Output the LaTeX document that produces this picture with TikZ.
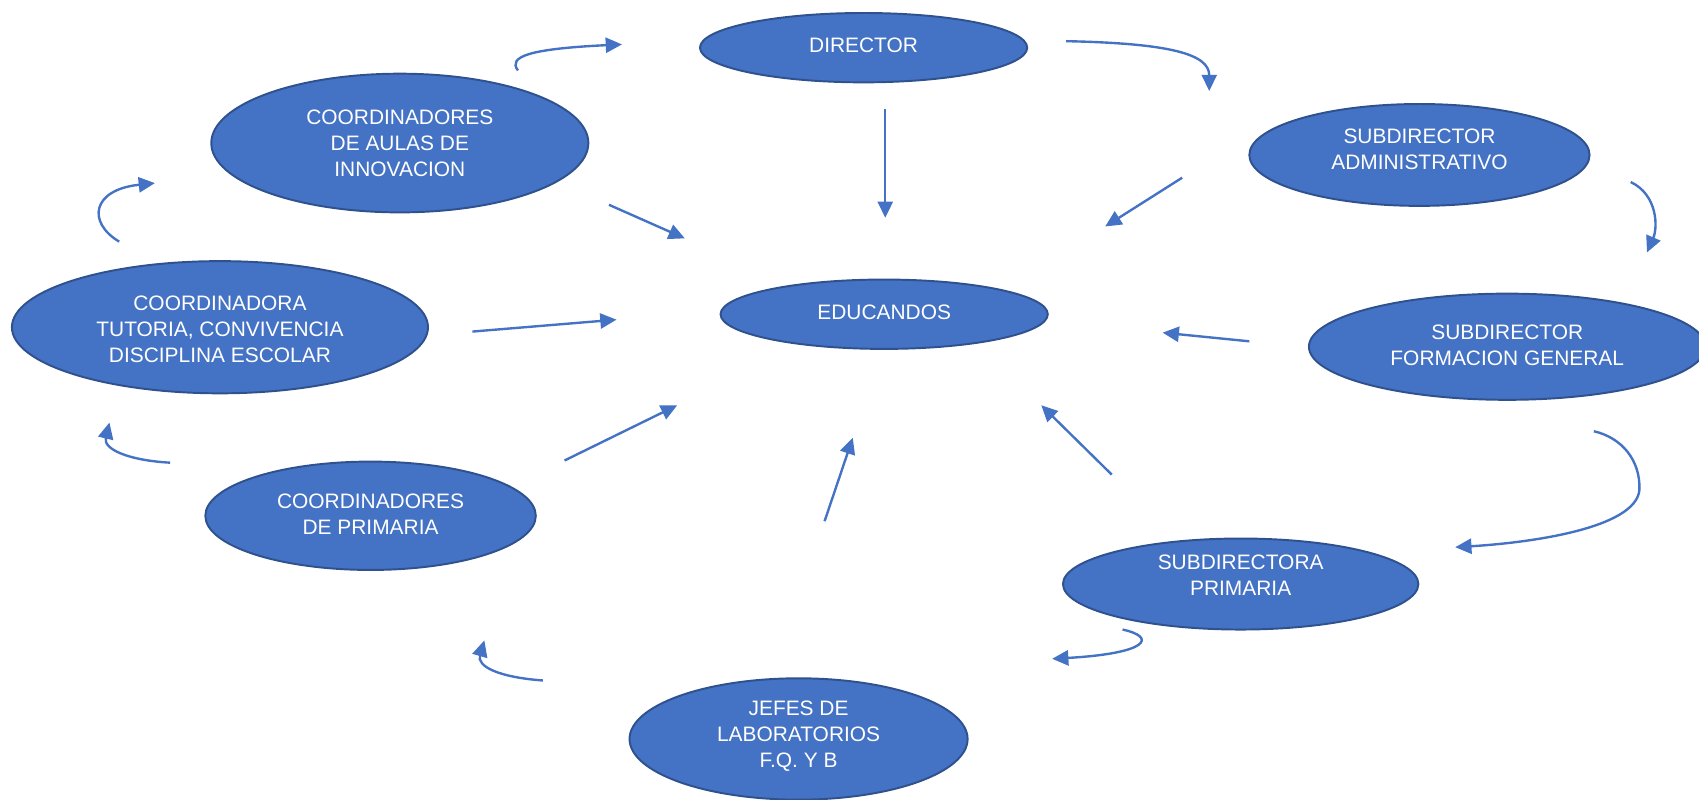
\documentclass[tikz,border=0pt]{standalone}
\usepackage{fontspec}
\setmainfont{Liberation Sans}
\usetikzlibrary{arrows.meta,shapes.geometric}
\definecolor{ofblue}{HTML}{4472C4}
\definecolor{ofdark}{HTML}{2F528F}
\begin{document}
\begin{tikzpicture}[x=1pt,y=-1pt,
  ell/.style={ellipse, draw=ofdark, line width=1.8pt, fill=ofblue, inner sep=0pt},
  lbl/.style={text=white, align=center, inner sep=0pt, font=\fontsize{19.3}{24}\selectfont},
  con/.style={draw=ofblue, line width=2.2pt, -{Triangle[length=15pt,width=14pt]}}]
\useasboundingbox (0,0) rectangle (1568,738);

% ellipses
\node[ell, minimum width=302pt, minimum height=64pt]  (dir)   at (797,44)   {};
\node[ell, minimum width=348pt, minimum height=128pt] (aulas) at (369,132)  {};
\node[ell, minimum width=314pt, minimum height=94pt]  (sadm)  at (1310,143) {};
\node[ell, minimum width=302pt, minimum height=64pt]  (edu)   at (816,290)  {};
\node[ell, minimum width=384pt, minimum height=122pt] (tut)   at (203,302)  {};
\node[ell, minimum width=366pt, minimum height=98pt]  (sfg)   at (1391,320) {};
\node[ell, minimum width=305pt, minimum height=100pt] (cpri)  at (342,476)  {};
\node[ell, minimum width=328pt, minimum height=84pt]  (spri)  at (1145,539) {};
\node[ell, minimum width=312pt, minimum height=112pt] (jefes) at (737,682)  {};

% texts
\node[lbl] (dirt)   at (797,42)    {DIRECTOR};
\node[lbl] (aulast) at (369,132)   {COORDINADORES\\DE AULAS DE\\INNOVACION};
\node[lbl] (sadmt)  at (1310,137.5){SUBDIRECTOR\\ADMINISTRATIVO};
\node[lbl] (edut)   at (816,288)   {EDUCANDOS};
\node[lbl] (tutt)   at (203,304)   {COORDINADORA\\TUTORIA, CONVIVENCIA\\DISCIPLINA ESCOLAR};
\node[lbl] (sfgt)   at (1391,318.5){SUBDIRECTOR\\FORMACION GENERAL};
\node[lbl] (cprit)  at (342,474.5) {COORDINADORES\\DE PRIMARIA};
\node[lbl] (sprit)  at (1145,530.5){SUBDIRECTORA\\PRIMARIA};
\node[lbl] (jefest) at (737,679.5) {JEFES DE\\LABORATORIOS\\F.Q. Y B};

% straight connector end points
\coordinate (d1) at (817,101);  \coordinate (d2) at (817,201);
\coordinate (s1) at (1091,164); \coordinate (s2) at (1020,209);
\coordinate (a1) at (562,189);  \coordinate (a2) at (632,220);
\coordinate (t1) at (436,306);  \coordinate (t2) at (569,295);
\coordinate (f1) at (1153,315); \coordinate (f2) at (1073,307);
\coordinate (p1) at (521,425);  \coordinate (p2) at (625,374);
\coordinate (j1) at (761,481);  \coordinate (j2) at (787,404);
\coordinate (r1) at (1026,438); \coordinate (r2) at (961,374);

\draw[con] (d1) -- (d2);
\draw[con] (s1) -- (s2);
\draw[con] (a1) -- (a2);
\draw[con] (t1) -- (t2);
\draw[con] (f1) -- (f2);
\draw[con] (p1) -- (p2);
\draw[con] (j1) -- (j2);
\draw[con] (r1) -- (r2);

% curved connector end points
\coordinate (ca1) at (478,65);   \coordinate (ca2) at (574,41);
\coordinate (cb1) at (984,38);   \coordinate (cb2) at (1116,84);
\coordinate (cc1) at (1505,168); \coordinate (cc2) at (1520,233);
\coordinate (cd1) at (1471,398); \coordinate (cd2) at (1343,505);
\coordinate (ce1) at (1036,581); \coordinate (ce2) at (971,608);
\coordinate (cf1) at (501,628);  \coordinate (cf2) at (447,591);
\coordinate (cg1) at (157,427);  \coordinate (cg2) at (101,390);
\coordinate (ch1) at (110,223);  \coordinate (ch2) at (143,169);

\draw[con] (ca1) .. controls (468,52) and (490,45) .. (ca2);
\draw[con] (cb1) .. controls (1080,40) and (1116,50) .. (cb2);
\draw[con] (cc1) .. controls (1530,180) and (1530,210) .. (cc2);
\draw[con] (cd1) .. controls (1497,404) and (1514,425) .. (1513,452)
                 .. controls (1510,488) and (1410,501) .. (cd2);
\draw[con] (ce1) .. controls (1068,588) and (1060,603) .. (ce2);
\draw[con] (cf1) .. controls (460,625) and (440,615) .. (cf2);
\draw[con] (cg1) .. controls (120,425) and (95,415) .. (cg2);
\draw[con] (ch1) .. controls (80,205) and (85,175) .. (ch2);
\end{tikzpicture}
\end{document}
